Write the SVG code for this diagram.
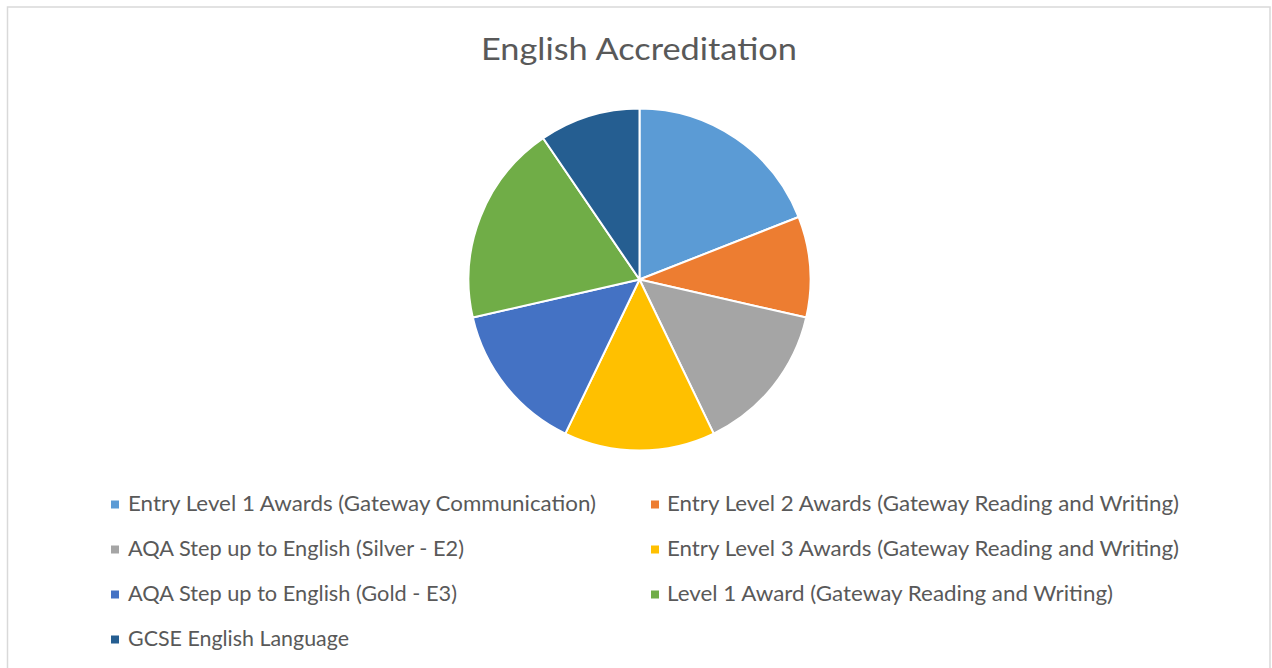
<svg xmlns="http://www.w3.org/2000/svg" width="1272" height="668" viewBox="0 0 1272 668">
<style>
.t{font-family:Lato,"Open Sans","Liberation Sans",sans-serif;fill:#595959}
.lg{font-size:21px}
.sl{stroke:#fff;stroke-width:2;stroke-linejoin:round}
</style>
<rect x="0" y="0" width="1272" height="668" fill="#fff"/>
<rect x="7.5" y="7" width="1262.5" height="700" fill="#fff" stroke="#d9d9d9" stroke-width="1.5"/>
<g id="title"><text class="t" x="481" y="60" font-size="31" textLength="316" lengthAdjust="spacingAndGlyphs">English Accreditation</text></g>
<g id="pie">
<g id="slice-el1"><path class="sl" fill="#5B9BD5" d="M639.5,279.5 L639.5,108.5 A171,171 0 0 1 798.68,217.03 Z"/></g>
<g id="slice-el2"><path class="sl" fill="#ED7D31" d="M639.5,279.5 L798.68,217.03 A171,171 0 0 1 806.21,317.55 Z"/></g>
<g id="slice-silver"><path class="sl" fill="#A5A5A5" d="M639.5,279.5 L806.21,317.55 A171,171 0 0 1 713.70,433.57 Z"/></g>
<g id="slice-el3"><path class="sl" fill="#FFC000" d="M639.5,279.5 L713.70,433.57 A171,171 0 0 1 565.30,433.57 Z"/></g>
<g id="slice-gold"><path class="sl" fill="#4472C4" d="M639.5,279.5 L565.30,433.57 A171,171 0 0 1 472.79,317.55 Z"/></g>
<g id="slice-l1"><path class="sl" fill="#70AD47" d="M639.5,279.5 L472.79,317.55 A171,171 0 0 1 543.17,138.21 Z"/></g>
<g id="slice-gcse"><path class="sl" fill="#255E91" d="M639.5,279.5 L543.17,138.21 A171,171 0 0 1 639.5,108.5 Z"/></g>
</g>
<g id="connectors"></g>
<g id="legend">
<g id="leg-el1"><rect x="111" y="500.5" width="8" height="8" fill="#5B9BD5"/><text class="t lg" x="128" y="511" textLength="468" lengthAdjust="spacingAndGlyphs">Entry Level 1 Awards (Gateway Communication)</text></g>
<g id="leg-el2"><rect x="651" y="500.5" width="8" height="8" fill="#ED7D31"/><text class="t lg" x="667" y="511" textLength="512" lengthAdjust="spacingAndGlyphs">Entry Level 2 Awards (Gateway Reading and Writing)</text></g>
<g id="leg-silver"><rect x="111" y="545.5" width="8" height="8" fill="#A5A5A5"/><text class="t lg" x="128" y="556" textLength="336" lengthAdjust="spacingAndGlyphs">AQA Step up to English (Silver - E2)</text></g>
<g id="leg-el3"><rect x="651" y="545.5" width="8" height="8" fill="#FFC000"/><text class="t lg" x="667" y="556" textLength="512" lengthAdjust="spacingAndGlyphs">Entry Level 3 Awards (Gateway Reading and Writing)</text></g>
<g id="leg-gold"><rect x="111" y="590.5" width="8" height="8" fill="#4472C4"/><text class="t lg" x="128" y="601" textLength="329" lengthAdjust="spacingAndGlyphs">AQA Step up to English (Gold - E3)</text></g>
<g id="leg-l1"><rect x="651" y="590.5" width="8" height="8" fill="#70AD47"/><text class="t lg" x="667" y="601" textLength="446" lengthAdjust="spacingAndGlyphs">Level 1 Award (Gateway Reading and Writing)</text></g>
<g id="leg-gcse"><rect x="111" y="635.5" width="8" height="8" fill="#255E91"/><text class="t lg" x="128" y="646" textLength="221" lengthAdjust="spacingAndGlyphs">GCSE English Language</text></g>
</g>
</svg>
